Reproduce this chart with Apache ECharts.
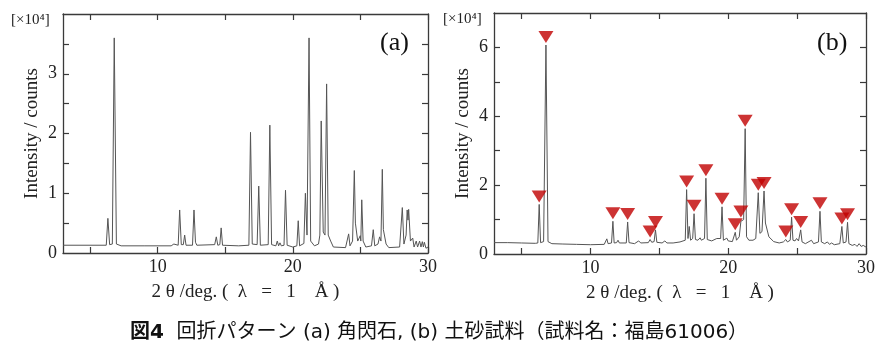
<!DOCTYPE html>
<html>
<head>
<meta charset="utf-8">
<script src="https://cdn.jsdelivr.net/npm/echarts@6/dist/echarts.min.js"></script>
<style>
  html, body { margin: 0; padding: 0; background: #fff; }
  #chart { width: 886px; height: 361px; }
</style>
</head>
<body>
<div id="chart"></div>
<script>
// ---- data (intensity in units of 10^4 counts, x in degrees 2θ) ----
const xTicks = [5, 10, 15, 20, 25, 30];
const xLabels = [10, 20, 30];
const yTicksA = [0.5, 1, 1.5, 2, 2.5, 3, 3.5];
const yLabelsA = [0, 1, 2, 3];
const yTicksB = [1, 2, 3, 4, 5, 6];
const yLabelsB = [0, 2, 4, 6];

// (a) amphibole pattern
const profileA = [
  [3.0,0.13],[5.0,0.13],[6.2,0.13],[6.32,0.58],[6.45,0.14],[6.65,0.15],[6.79,3.6],[6.95,0.15],[7.3,0.12],
  [9.0,0.12],[11.0,0.12],[11.2,0.15],[11.3,0.12],[11.52,0.13],[11.63,0.72],[11.75,0.14],[11.9,0.14],[12.0,0.3],[12.1,0.13],
  [12.58,0.13],[12.69,0.72],[12.8,0.18],[12.9,0.13],[14.22,0.14],[14.34,0.27],[14.45,0.13],[14.6,0.14],[14.7,0.42],[14.8,0.13],
  [16.0,0.12],[16.75,0.13],[16.87,2.02],[17.0,0.15],[17.36,0.14],[17.48,1.12],[17.6,0.13],[18.18,0.14],[18.3,2.14],[18.43,0.14],
  [18.75,0.12],[18.85,0.2],[18.95,0.12],[19.05,0.17],[19.15,0.12],[19.35,0.13],[19.46,1.05],[19.58,0.13],[20.0,0.1],
  [20.3,0.12],[20.4,0.54],[20.5,0.12],[20.82,0.16],[20.93,1.0],[21.05,0.3],[21.2,3.6],[21.32,0.2],[21.6,0.12],
  [21.9,0.15],[22.0,0.3],[22.1,2.21],[22.25,0.35],[22.38,0.3],[22.5,2.83],[22.62,0.3],[22.8,0.2],[23.0,0.1],
  [23.9,0.09],[24.02,0.12],[24.13,0.32],[24.23,0.12],[24.42,0.2],[24.55,1.38],[24.63,0.5],[24.67,0.5],[24.8,0.2],[24.99,0.29],
  [25.03,0.2],[25.1,0.89],[25.2,0.2],[25.4,0.1],[25.82,0.12],[25.95,0.39],[26.06,0.12],[26.3,0.15],[26.42,0.27],[26.52,0.2],
  [26.62,1.4],[26.7,0.39],[26.75,0.39],[26.9,0.15],[27.1,0.09],[27.9,0.1],[28.1,0.76],[28.22,0.15],[28.38,0.3],[28.46,0.72],
  [28.52,0.55],[28.57,0.73],[28.7,0.2],[28.87,0.25],[28.97,0.1],[29.13,0.2],[29.23,0.1],[29.38,0.2],[29.48,0.1],[29.58,0.19],
  [29.66,0.1],[29.73,0.18],[29.85,0.08],[30.0,0.1]
];

// (b) soil sample pattern
const profileB = [
  [3.0,0.33],[4.0,0.33],[5.0,0.32],[6.0,0.31],[6.18,0.32],[6.28,1.44],[6.38,0.33],[6.6,0.36],[6.77,6.07],[6.92,0.36],[7.2,0.3],
  [8.0,0.29],[9.0,0.28],[10.0,0.27],[11.0,0.28],[11.1,0.3],[11.19,0.44],[11.28,0.3],[11.53,0.32],[11.63,0.95],[11.72,0.32],
  [11.9,0.33],[12.0,0.4],[12.1,0.32],[12.6,0.32],[12.7,0.93],[12.8,0.33],[13.2,0.3],[13.5,0.38],[13.65,0.32],[14.2,0.33],
  [14.33,0.42],[14.45,0.34],[14.62,0.36],[14.72,0.7],[14.82,0.34],[15.2,0.32],[15.4,0.38],[15.55,0.32],[16.0,0.32],[16.5,0.35],
  [16.88,0.4],[16.98,1.87],[17.08,0.45],[17.17,0.8],[17.27,0.4],[17.42,0.45],[17.52,1.17],[17.62,0.42],[17.8,0.4],[17.96,0.47],
  [18.05,0.4],[18.15,0.45],[18.28,0.45],[18.38,2.2],[18.48,0.42],[18.8,0.38],[19.17,0.45],[19.3,0.4],[19.45,0.45],[19.55,1.37],
  [19.65,0.4],[19.9,0.46],[20.0,0.38],[20.3,0.36],[20.42,0.4],[20.51,0.63],[20.6,0.4],[20.8,0.5],[20.92,0.95],[21.05,0.9],
  [21.12,1.0],[21.23,3.64],[21.33,0.5],[21.5,0.4],[21.8,0.4],[22.0,0.45],[22.18,1.78],[22.3,0.6],[22.45,0.65],[22.6,1.83],
  [22.7,0.9],[22.8,0.85],[22.95,0.5],[23.07,0.5],[23.3,0.36],[23.7,0.32],[24.0,0.35],[24.18,0.42],[24.3,0.35],[24.5,0.4],
  [24.6,1.07],[24.7,0.4],[24.85,0.38],[24.96,0.45],[25.1,0.38],[25.18,0.4],[25.26,0.7],[25.36,0.35],[25.6,0.3],[26.04,0.4],
  [26.2,0.3],[26.55,0.35],[26.66,1.24],[26.76,0.35],[27.0,0.3],[27.2,0.35],[27.35,0.28],[27.5,0.32],[27.7,0.27],[28.1,0.3],
  [28.25,0.8],[28.35,0.32],[28.55,0.35],[28.66,0.92],[28.76,0.3],[29.0,0.25],[29.2,0.28],[29.35,0.22],[29.5,0.3],[29.65,0.22],
  [29.8,0.25],[30.0,0.2]
];

// peaks marked with ▼ in (b): position and peak-top intensity
const markerX = [6.28, 6.77, 11.63, 12.7, 14.33, 14.72, 16.98, 17.52, 18.38, 19.55, 20.51, 20.92, 21.23, 22.18, 22.6, 24.18, 24.6, 25.26, 26.66, 28.25, 28.66];
const markerY = [1.44, 6.07, 0.95, 0.93, 0.42, 0.7, 1.87, 1.17, 2.2, 1.37, 0.63, 1.0, 3.64, 1.78, 1.83, 0.42, 1.07, 0.7, 1.24, 0.8, 0.92];

// ---- chart ----
const serif = 'Liberation Serif';
const frame = { color: '#3a3a3a', width: 1.3 };
const tickStyle = { color: '#3a3a3a', width: 1.2 };
const xName = '2 θ /deg. (  λ   =   1    Å )';

function xAxes(g) {
  return [
    {
      type: 'value', gridIndex: g, min: 3, max: 30, position: 'bottom',
      axisLine: { show: true, onZero: false, lineStyle: frame },
      axisTick: { show: true, inside: true, length: 6, lineStyle: tickStyle, customValues: xTicks },
      axisLabel: { show: true, customValues: xLabels, fontFamily: serif, fontSize: 18, color: '#222', margin: 5 },
      splitLine: { show: false },
      name: xName, nameLocation: 'middle', nameGap: 30,
      nameTextStyle: { fontFamily: serif, fontSize: 19, color: '#222' }
    },
    {
      type: 'value', gridIndex: g, min: 3, max: 30, position: 'top',
      axisLine: { show: true, onZero: false, lineStyle: frame },
      axisTick: { show: true, inside: true, length: 6, lineStyle: tickStyle, customValues: xTicks },
      axisLabel: { show: false },
      splitLine: { show: false }
    }
  ];
}
function yAxes(g, max, ticks, labels) {
  return [
    {
      type: 'value', gridIndex: g, min: 0, max: max, position: 'left',
      axisLine: { show: true, onZero: false, lineStyle: frame },
      axisTick: { show: true, inside: true, length: 6, lineStyle: tickStyle, customValues: ticks },
      axisLabel: { show: true, customValues: labels, fontFamily: serif, fontSize: 18, color: '#222', margin: 6 },
      splitLine: { show: false },
      name: 'Intensity / counts', nameLocation: 'middle', nameGap: 21,
      nameTextStyle: { fontFamily: serif, fontSize: 19, color: '#222' }
    },
    {
      type: 'value', gridIndex: g, min: 0, max: max, position: 'right',
      axisLine: { show: true, onZero: false, lineStyle: frame },
      axisTick: { show: true, inside: true, length: 6, lineStyle: tickStyle, customValues: ticks },
      axisLabel: { show: false },
      splitLine: { show: false }
    }
  ];
}

const chart = echarts.init(document.getElementById('chart'), null, { renderer: 'canvas' });
chart.setOption({
  animation: false,
  backgroundColor: '#fff',
  grid: [
    { left: 63, top: 14, width: 365, height: 239 },
    { left: 494, top: 13, width: 372, height: 241 }
  ],
  xAxis: [...xAxes(0), ...xAxes(1)],
  yAxis: [...yAxes(0, 4, yTicksA, yLabelsA), ...yAxes(1, 7, yTicksB, yLabelsB)],
  series: [
    {
      type: 'line', xAxisIndex: 0, yAxisIndex: 0, data: profileA,
      showSymbol: false, symbol: 'none', lineStyle: { color: '#555', width: 1 }
    },
    {
      type: 'line', xAxisIndex: 2, yAxisIndex: 2, data: profileB,
      showSymbol: false, symbol: 'none', lineStyle: { color: '#555', width: 1 }
    },
    {
      type: 'scatter', xAxisIndex: 2, yAxisIndex: 2,
      data: markerX.map((x, i) => [x, markerY[i]]),
      symbol: 'triangle', symbolRotate: 180, symbolSize: [15, 12], symbolOffset: [0, -8],
      itemStyle: { color: '#c00000' }, z: 5
    }
  ],
  graphic: [
    { type: 'text', left: 11, top: 13, style: { text: '[×10⁴]', font: '15px "Liberation Serif"', fill: '#222' } },
    { type: 'text', left: 443, top: 12, style: { text: '[×10⁴]', font: '15px "Liberation Serif"', fill: '#222' } },
    { type: 'text', left: 380, top: 30, style: { text: '(a)', font: '26px "Liberation Serif"', fill: '#111' } },
    { type: 'text', left: 817, top: 30, style: { text: '(b)', font: '26px "Liberation Serif"', fill: '#111' } },
    {
      type: 'text', x: 439, y: 333,
      style: {
        text: '{b|図4}  回折パターン (a) 角閃石, (b) 土砂試料（試料名：福島61006）',
        align: 'center', verticalAlign: 'middle',
        fontFamily: '"DejaVu Sans", "Noto Sans CJK JP"', fontSize: 20, fill: '#111',
        rich: { b: { fontFamily: '"DejaVu Sans", "Noto Sans CJK JP"', fontSize: 20, fontWeight: 'bold', fill: '#111' } }
      }
    }
  ]
});
</script>
</body>
</html>
